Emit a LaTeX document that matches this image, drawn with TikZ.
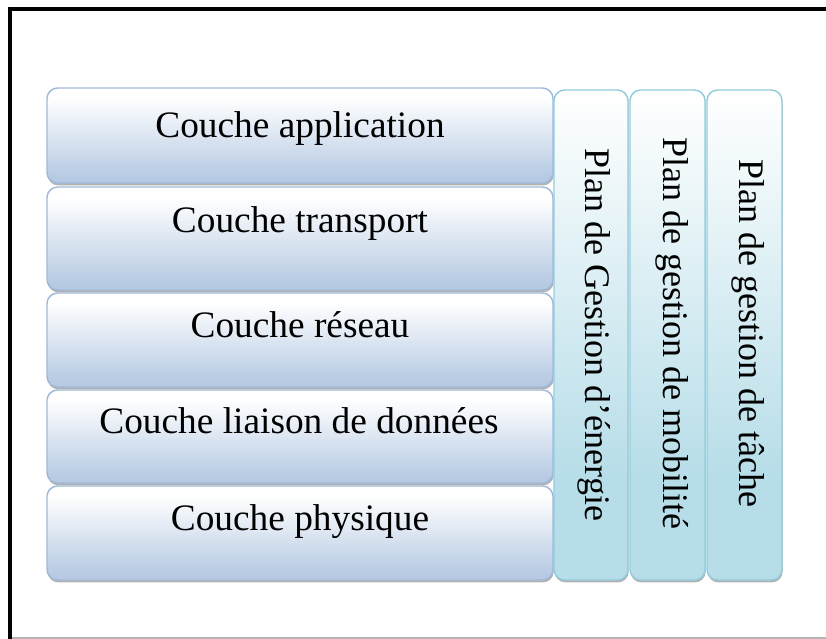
\documentclass[tikz,border=0pt]{standalone}
\usepackage{fontspec}
\setmainfont{Liberation Serif}
\usetikzlibrary{shadows}

\definecolor{layerB}{HTML}{B6CAE3}
\definecolor{layerEdge}{HTML}{A0B9DA}
\definecolor{planB}{HTML}{B6DDE8}
\definecolor{planEdge}{HTML}{93CDDD}
\definecolor{frameGray}{HTML}{B4B4B4}

% vertical shadings: 25bp = bottom of the shape, 75bp = top
\pgfdeclareverticalshading{layershade}{100bp}{%
  color(0bp)=(layerB); color(28bp)=(layerB); color(70bp)=(white); color(100bp)=(white)}
\pgfdeclareverticalshading{planshade}{100bp}{%
  color(0bp)=(planB); color(35bp)=(planB); color(75bp)=(white); color(100bp)=(white)}

\tikzset{
  boxbase/.style={rectangle, rounded corners=8pt, inner sep=0pt, outer sep=0pt,
    line width=1.1pt,
    drop shadow={shadow xshift=0.5pt, shadow yshift=-1.8pt, fill=black, opacity=0.3}},
  layerbox/.style={boxbase, draw=layerEdge, shading=layershade, minimum width=379.5pt},
  planbox/.style={boxbase, draw=planEdge, shading=planshade, minimum height=367.5pt},
  lbl/.style={font=\fontsize{28}{33}\selectfont, text=black, inner sep=0pt, anchor=base},
  vlbl/.style={lbl, font=\fontsize{27}{32}\selectfont, rotate=-90},
}

\begin{document}
\begin{tikzpicture}[x=0.75pt, y=-0.75pt]
  \useasboundingbox (0,0) rectangle (826,639);
  \fill[white] (0,0) rectangle (826,639);

  % frame
  \draw[frameGray, line width=0.9pt] (10,638) -- (826,638);
  \draw[black, line width=3pt] (10,7) -- (10,639);
  \draw[black, line width=3pt] (8.5,9) -- (826,9);

  % protocol layers
  \node[layerbox, minimum height=71.25pt] (app) at (300,135.5) {};
  \node[layerbox, minimum height=77.25pt] (trans) at (300,238.5) {};
  \node[layerbox, minimum height=70.5pt] (net) at (300,340) {};
  \node[layerbox, minimum height=69.75pt] (link) at (300,436.5) {};
  \node[layerbox, minimum height=70.5pt] (phys) at (300,533) {};

  \node[lbl] (appT) at (300,137) {Couche application};
  \node[lbl] (transT) at (300,232) {Couche transport};
  \node[lbl] (netT) at (300,337) {Couche réseau};
  \node[lbl] (linkT) at (299,433) {Couche liaison de données};
  \node[lbl] (physT) at (300,530) {Couche physique};

  % management planes
  \node[planbox, minimum width=55.5pt] (energy) at (591,335) {};
  \node[planbox, minimum width=56.25pt] (mobility) at (667.5,335) {};
  \node[planbox, minimum width=56.25pt] (task) at (744.5,335) {};

  \node[vlbl] (energyT) at (585,335) {Plan de Gestion d’énergie};
  \node[vlbl] (mobilityT) at (663,333.5) {Plan de gestion de mobilité};
  \node[vlbl] (taskT) at (739.5,333) {Plan de gestion de tâche};
\end{tikzpicture}
\end{document}
